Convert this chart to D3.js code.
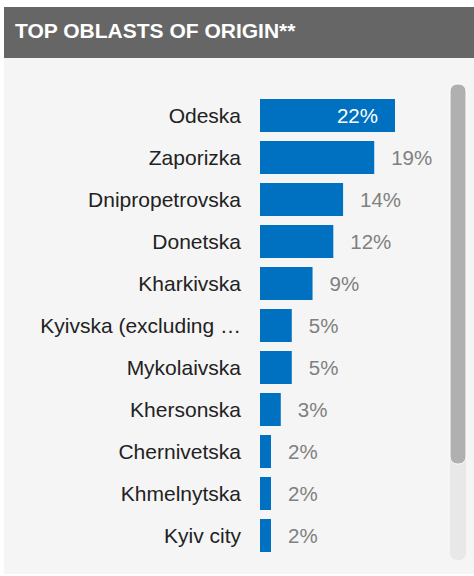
<!DOCTYPE html>
<html>
<head>
<meta charset="utf-8">
<script src="https://cdn.jsdelivr.net/npm/d3@7"></script>
<style>
  html, body { margin: 0; padding: 0; background: #ffffff; }
  #chart { width: 474px; height: 576px; }
  text { font-family: Arial, "Liberation Sans", sans-serif; }
</style>
</head>
<body>
<div id="chart"></div>
<script>
const title = "TOP OBLASTS OF ORIGIN**";

const oblasts = [
    "Odeska", "Zaporizka", "Dnipropetrovska", "Donetska", "Kharkivska",
    "Kyivska (excluding …", "Mykolaivska", "Khersonska", "Chernivetska",
    "Khmelnytska", "Kyiv city"
];

const shares = [22.1, 18.7, 13.6, 12.0, 8.6, 5.2, 5.2, 3.4, 1.8, 1.8, 1.8];

const data = oblasts.map((name, i) => ({ name: name, value: shares[i] }));

const width = 474;
const height = 576;

const svg = d3.select("#chart").append("svg")
    .attr("width", width)
    .attr("height", height);

// panel + header
svg.append("rect")
    .attr("x", 4).attr("y", 58)
    .attr("width", width - 4).attr("height", 516)
    .style("fill", "#f5f5f5");

svg.append("rect")
    .attr("x", 4).attr("y", 7)
    .attr("width", width - 4).attr("height", 51)
    .style("fill", "#666666");

svg.append("text")
    .attr("x", 15).attr("y", 38)
    .style("font-size", "21px")
    .style("font-weight", "bold")
    .style("fill", "#ffffff")
    .text(title);

// scales
const x0 = 260;
const x = d3.scaleLinear()
    .domain([0, d3.max(shares)])
    .range([0, 135]);

const y = d3.scaleBand()
    .domain(oblasts)
    .range([99, 99 + 42 * oblasts.length - 9])
    .paddingInner(9 / 42)
    .paddingOuter(0);

const rows = svg.selectAll(".row")
    .data(data)
    .enter()
    .append("g")
    .attr("class", "row")
    .attr("transform", d => `translate(0,${y(d.name)})`);

rows.append("rect")
    .attr("x", x0)
    .attr("width", d => x(d.value))
    .attr("height", y.bandwidth())
    .style("fill", "#0070c0");

rows.append("text")
    .attr("x", 241)
    .attr("y", y.bandwidth() / 2)
    .attr("dy", "0.36em")
    .attr("text-anchor", "end")
    .style("font-size", "21px")
    .style("fill", "#222222")
    .text(d => d.name);

// value labels: inside the bar when it is the long one
rows.append("text")
    .attr("x", d => d.value >= 20 ? x0 + x(d.value) - 17 : x0 + x(d.value) + 17)
    .attr("y", y.bandwidth() / 2)
    .attr("dy", "0.36em")
    .attr("text-anchor", d => d.value >= 20 ? "end" : "start")
    .style("font-size", "20.5px")
    .style("fill", d => d.value >= 20 ? "#ffffff" : "#808080")
    .text(d => Math.round(d.value) + "%");

// scrollbar
svg.append("rect")
    .attr("x", 450).attr("y", 84)
    .attr("width", 16).attr("height", 476)
    .attr("rx", 7)
    .style("fill", "#e8e8e8");

svg.append("rect")
    .attr("x", 450).attr("y", 84)
    .attr("width", 16).attr("height", 380)
    .attr("rx", 7)
    .style("fill", "#b0b0b0")
    .style("stroke", "#ffffff")
    .style("stroke-width", 1);
</script>
</body>
</html>
